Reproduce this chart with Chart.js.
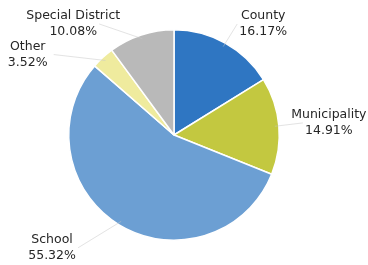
<!DOCTYPE html>
<html>
<head>
<meta charset="utf-8">
<script src="https://cdn.jsdelivr.net/npm/chart.js@4.4.0/dist/chart.umd.min.js"></script>
<style>
  html, body { margin: 0; padding: 0; background: #fff; }
  #wrap { width: 368px; height: 265px; position: relative; }
</style>
</head>
<body>
<div id="wrap"><canvas id="myChart"></canvas></div>
<script>
var categories = ["County", "Municipality", "School", "Other", "Special District"];
var shares = [16.17, 14.91, 55.32, 3.52, 10.08];
var sliceColors = ["#2f76c2", "#c3c840", "#6c9fd3", "#efeb9e", "#b9b9b9"];

// where each label sits, relative to the outer middle of its slice
var labelOffsets = [[38, -19], [50, -3], [-67, 23], [-75, -3], [-68, -11]];

var outsideLabels = {
  id: "outsideLabels",
  afterDatasetsDraw: function(chart) {
    var ctx = chart.ctx;
    var arcs = chart.getDatasetMeta(0).data;
    ctx.save();
    ctx.font = "12.5px 'DejaVu Sans', Verdana, sans-serif";
    ctx.textAlign = "center";
    ctx.textBaseline = "middle";
    arcs.forEach(function(arc, i) {
      var mid = (arc.startAngle + arc.endAngle) / 2;
      var ex = arc.x + Math.cos(mid) * arc.outerRadius;
      var ey = arc.y + Math.sin(mid) * arc.outerRadius;
      var lx = ex + labelOffsets[i][0];
      var ly = ey + labelOffsets[i][1];

      // faint leader line
      var sx = arc.x + Math.cos(mid) * (arc.outerRadius - 4);
      var sy = arc.y + Math.sin(mid) * (arc.outerRadius - 4);
      var tx = lx - Math.sign(labelOffsets[i][0]) * 26;
      var ty = ly;
      ctx.strokeStyle = "rgba(200,200,200,0.5)";
      ctx.lineWidth = 1;
      ctx.beginPath();
      ctx.moveTo(sx, sy);
      ctx.lineTo(tx, ty);
      ctx.stroke();

      ctx.fillStyle = "#262626";
      ctx.fillText(categories[i], lx, ly - 8);
      ctx.fillText(shares[i].toFixed(2) + "%", lx, ly + 8);
    });
    ctx.restore();
  }
};

new Chart("myChart", {
  type: "pie",
  data: {
    labels: categories,
    datasets: [{
      data: shares,
      backgroundColor: sliceColors,
      borderColor: "#ffffff",
      borderWidth: 1.5
    }]
  },
  options: {
    responsive: true,
    maintainAspectRatio: false,
    animation: false,
    layout: { padding: { left: 68, right: 88, top: 29, bottom: 24 } },
    plugins: {
      legend: { display: false },
      tooltip: { enabled: false }
    }
  },
  plugins: [outsideLabels]
});
</script>
</body>
</html>
